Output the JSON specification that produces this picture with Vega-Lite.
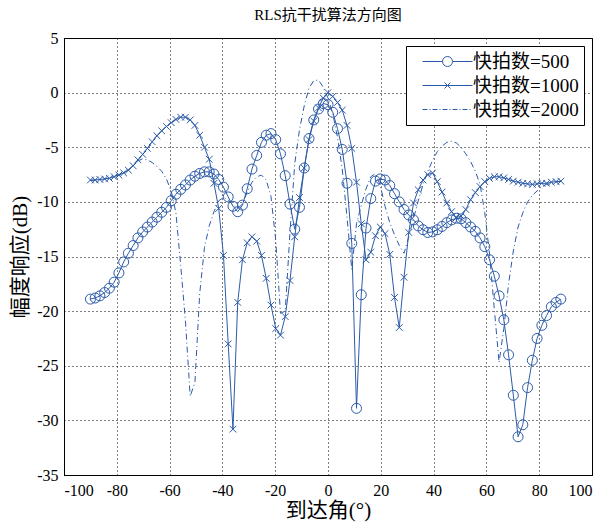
{
  "$schema": "https://vega.github.io/schema/vega-lite/v6.json",
  "width": 528,
  "height": 437,
  "autosize": "none",
  "padding": {"left": 64, "top": 38, "right": 19, "bottom": 47},
  "background": "white",
  "title": {
    "text": "RLS抗干扰算法方向图",
    "font": "Liberation Serif, Noto Sans CJK SC",
    "fontSize": 15,
    "fontWeight": "normal",
    "color": "black",
    "anchor": "middle",
    "offset": 7
  },
  "config": {
    "view": {"stroke": "black", "strokeWidth": 1},
    "axis": {
      "labelFont": "Liberation Serif",
      "labelFontSize": 16,
      "labelColor": "black",
      "titleFont": "Liberation Serif, Noto Sans CJK SC",
      "titleFontSize": 21,
      "titleFontWeight": "normal",
      "titleColor": "black",
      "domainColor": "black",
      "grid": true,
      "gridColor": "black",
      "gridOpacity": 1,
      "gridDash": [1, 3],
      "gridWidth": 1,
      "ticks": false
    }
  },
  "data": {
    "values": [
      {"a": -90, "500": -18.9, "1000": -8.0, "2000": -8.05},
      {"a": -88.2, "500": -18.8, "1000": -8.0, "2000": -8.0},
      {"a": -86.4, "500": -18.6, "1000": -7.95, "2000": -7.95},
      {"a": -84.6, "500": -18.3, "1000": -7.9, "2000": -7.9},
      {"a": -82.8, "500": -17.9, "1000": -7.85, "2000": -7.8},
      {"a": -81, "500": -17.35, "1000": -7.7, "2000": -7.65},
      {"a": -79.2, "500": -16.5, "1000": -7.55, "2000": -7.5},
      {"a": -77.4, "500": -15.5, "1000": -7.35, "2000": -7.3},
      {"a": -75.6, "500": -14.7, "1000": -7.1, "2000": -7.05},
      {"a": -73.8, "500": -14.0, "1000": -6.7, "2000": -6.7},
      {"a": -72, "500": -13.3, "1000": -6.15, "2000": -6.25},
      {"a": -70.2, "500": -12.75, "1000": -5.65, "2000": -6.05},
      {"a": -68.4, "500": -12.3, "1000": -5.1, "2000": -6.15},
      {"a": -66.6, "500": -11.85, "1000": -4.5, "2000": -6.4},
      {"a": -64.8, "500": -11.4, "1000": -3.95, "2000": -6.75},
      {"a": -63, "500": -10.95, "1000": -3.5, "2000": -7.2},
      {"a": -61.2, "500": -10.5, "1000": -3.1, "2000": -7.9},
      {"a": -59.4, "500": -9.9, "1000": -2.75, "2000": -9.0},
      {"a": -57.6, "500": -9.3, "1000": -2.45, "2000": -11.0},
      {"a": -55.8, "500": -8.85, "1000": -2.25, "2000": -15.8},
      {"a": -54, "500": -8.45, "1000": -2.25, "2000": -20.9},
      {"a": -52.2, "500": -8.0, "1000": -2.5, "2000": -27.8},
      {"a": -50.4, "500": -7.65, "1000": -3.0, "2000": -26.5},
      {"a": -48.6, "500": -7.4, "1000": -3.9, "2000": -18.4},
      {"a": -46.8, "500": -7.25, "1000": -5.0, "2000": -14.2},
      {"a": -45, "500": -7.25, "1000": -6.1, "2000": -12.2},
      {"a": -43.2, "500": -7.45, "1000": -8.3, "2000": -10.9},
      {"a": -41.4, "500": -7.95, "1000": -10.6, "2000": -9.9},
      {"a": -39.6, "500": -8.65, "1000": -14.9, "2000": -9.6},
      {"a": -37.8, "500": -9.55, "1000": -23.0, "2000": -9.8},
      {"a": -36, "500": -10.4, "1000": -30.8, "2000": -10.3},
      {"a": -34.2, "500": -10.9, "1000": -19.2, "2000": -10.6},
      {"a": -32.4, "500": -10.3, "1000": -15.3, "2000": -10.2},
      {"a": -30.6, "500": -8.8, "1000": -13.75, "2000": -9.1},
      {"a": -28.8, "500": -7.0, "1000": -13.2, "2000": -8.2},
      {"a": -27, "500": -5.75, "1000": -13.6, "2000": -7.7},
      {"a": -25.2, "500": -4.55, "1000": -14.9, "2000": -7.55},
      {"a": -23.4, "500": -3.9, "1000": -17.0, "2000": -8.0},
      {"a": -21.6, "500": -3.75, "1000": -19.45, "2000": -9.5},
      {"a": -19.8, "500": -4.3, "1000": -21.6, "2000": -13.5},
      {"a": -18, "500": -5.6, "1000": -22.2, "2000": -20.2},
      {"a": -16.2, "500": -7.6, "1000": -20.5, "2000": -20.0},
      {"a": -14.4, "500": -10.2, "1000": -17.2, "2000": -12.8},
      {"a": -12.6, "500": -12.5, "1000": -13.2, "2000": -6.5},
      {"a": -10.8, "500": -10.5, "1000": -9.6, "2000": -3.4},
      {"a": -9, "500": -6.9, "1000": -6.9, "2000": -1.2},
      {"a": -7.2, "500": -4.2, "1000": -4.3, "2000": 0.4},
      {"a": -5.4, "500": -2.5, "1000": -2.6, "2000": 1.1},
      {"a": -3.6, "500": -1.5, "1000": -1.4, "2000": 1.15},
      {"a": -1.8, "500": -1.0, "1000": -0.5, "2000": 0.5},
      {"a": 0, "500": -1.1, "1000": 0.0, "2000": -0.5},
      {"a": 1.8, "500": -1.8, "1000": -0.35, "2000": -1.9},
      {"a": 3.6, "500": -3.3, "1000": -0.9, "2000": -4.1},
      {"a": 5.4, "500": -5.2, "1000": -1.6, "2000": -7.0},
      {"a": 7.2, "500": -8.3, "1000": -3.0, "2000": -11.4},
      {"a": 9, "500": -13.8, "1000": -5.1, "2000": -16.2},
      {"a": 10.8, "500": -28.9, "1000": -8.2, "2000": -12.0},
      {"a": 12.6, "500": -18.5, "1000": -12.0, "2000": -10.3},
      {"a": 14.4, "500": -12.4, "1000": -15.3, "2000": -8.8},
      {"a": 16.2, "500": -9.7, "1000": -14.6, "2000": -7.7},
      {"a": 18, "500": -8.1, "1000": -13.1, "2000": -7.4},
      {"a": 19.8, "500": -7.9, "1000": -12.3, "2000": -8.5},
      {"a": 21.6, "500": -8.0, "1000": -12.9, "2000": -10.4},
      {"a": 23.4, "500": -8.5, "1000": -14.8, "2000": -11.9},
      {"a": 25.2, "500": -9.25, "1000": -18.75, "2000": -13.0},
      {"a": 27, "500": -10.0, "1000": -21.5, "2000": -14.0},
      {"a": 28.8, "500": -10.7, "1000": -16.9, "2000": -14.7},
      {"a": 30.6, "500": -11.2, "1000": -12.8, "2000": -13.2},
      {"a": 32.4, "500": -11.65, "1000": -10.1, "2000": -11.5},
      {"a": 34.2, "500": -12.2, "1000": -8.9, "2000": -9.9},
      {"a": 36, "500": -12.55, "1000": -8.0, "2000": -8.4},
      {"a": 37.8, "500": -12.8, "1000": -7.5, "2000": -7.2},
      {"a": 39.6, "500": -12.75, "1000": -7.35, "2000": -6.2},
      {"a": 41.4, "500": -12.55, "1000": -8.15, "2000": -5.4},
      {"a": 43.2, "500": -12.25, "1000": -9.1, "2000": -4.9},
      {"a": 45, "500": -11.9, "1000": -10.1, "2000": -4.55},
      {"a": 46.8, "500": -11.65, "1000": -10.9, "2000": -4.45},
      {"a": 48.6, "500": -11.5, "1000": -11.45, "2000": -4.6},
      {"a": 50.4, "500": -11.55, "1000": -11.3, "2000": -5.0},
      {"a": 52.2, "500": -11.9, "1000": -10.7, "2000": -5.6},
      {"a": 54, "500": -12.3, "1000": -9.8, "2000": -6.3},
      {"a": 55.8, "500": -12.7, "1000": -9.15, "2000": -7.2},
      {"a": 57.6, "500": -13.3, "1000": -8.6, "2000": -8.4},
      {"a": 59.4, "500": -14.1, "1000": -8.15, "2000": -11.0},
      {"a": 61.2, "500": -15.3, "1000": -7.85, "2000": -14.8},
      {"a": 63, "500": -16.8, "1000": -7.7, "2000": -19.8},
      {"a": 64.8, "500": -18.6, "1000": -7.7, "2000": -24.7},
      {"a": 66.6, "500": -20.8, "1000": -7.8, "2000": -21.6},
      {"a": 68.4, "500": -24.0, "1000": -7.95, "2000": -17.5},
      {"a": 70.2, "500": -27.7, "1000": -8.1, "2000": -14.5},
      {"a": 72, "500": -31.5, "1000": -8.2, "2000": -12.3},
      {"a": 73.8, "500": -30.4, "1000": -8.3, "2000": -11.0},
      {"a": 75.6, "500": -27.0, "1000": -8.35, "2000": -10.0},
      {"a": 77.4, "500": -24.5, "1000": -8.4, "2000": -9.4},
      {"a": 79.2, "500": -22.5, "1000": -8.35, "2000": -9.0},
      {"a": 81, "500": -21.3, "1000": -8.3, "2000": -8.6},
      {"a": 82.8, "500": -20.4, "1000": -8.3, "2000": -8.4},
      {"a": 84.6, "500": -19.6, "1000": -8.2, "2000": -8.3},
      {"a": 86.4, "500": -19.2, "1000": -8.15, "2000": -8.2},
      {"a": 88.2, "500": -18.9, "1000": -8.1, "2000": -8.1}
    ]
  },
  "transform": [{"fold": ["500", "1000", "2000"], "as": ["k", "db"]}],
  "encoding": {
    "x": {
      "field": "a",
      "type": "quantitative",
      "scale": {"domain": [-100, 100], "nice": false, "zero": false},
      "axis": {
        "values": [-100, -80, -60, -40, -20, 0, 20, 40, 60, 80, 100],
        "labelExpr": "'' + datum.value",
        "labelPadding": 7,
        "title": "到达角(°)",
        "titlePadding": 1
      }
    },
    "y": {
      "field": "db",
      "type": "quantitative",
      "scale": {"domain": [-35, 5], "nice": false, "zero": false},
      "axis": {
        "values": [5, 0, -5, -10, -15, -20, -25, -30, -35],
        "labelExpr": "'' + datum.value",
        "labelPadding": 6,
        "title": "幅度响应(dB)",
        "titlePadding": 6
      }
    }
  },
  "layer": [
    {
      "transform": [{"filter": "datum.k != '2000'"}],
      "mark": {"type": "line", "color": "#2c5ba9", "strokeWidth": 1},
      "encoding": {"detail": {"field": "k", "type": "nominal"}}
    },
    {
      "transform": [{"filter": "datum.k == '2000'"}],
      "mark": {"type": "line", "color": "#2c5ba9", "strokeWidth": 1, "strokeDash": [6, 3, 1, 3]}
    },
    {
      "transform": [{"filter": "datum.k == '500'"}],
      "mark": {"type": "point", "shape": "circle", "size": 100, "filled": false, "color": "#2c5ba9", "strokeWidth": 1, "opacity": 1}
    },
    {
      "transform": [{"filter": "datum.k == '1000'"}],
      "mark": {"type": "point", "shape": "M-1,-1L1,1M-1,1L1,-1", "size": 45, "filled": false, "color": "#2c5ba9", "strokeWidth": 1, "opacity": 1}
    },
    {
      "transform": [{"filter": "datum.a > 1000"}],
      "mark": {"type": "point", "filled": false, "color": "#2c5ba9", "strokeWidth": 1, "opacity": 1},
      "encoding": {
        "shape": {
          "field": "k",
          "type": "nominal",
          "scale": {
            "domain": ["500", "1000", "2000"],
            "range": [
              "M-2.5,0H-0.5M0.5,0H2.5M0.5,0L0.462,0.191L0.354,0.354L0.191,0.462L0,0.5L-0.191,0.462L-0.354,0.354L-0.462,0.191L-0.5,0L-0.462,-0.191L-0.354,-0.354L-0.191,-0.462L0,-0.5L0.191,-0.462L0.354,-0.354L0.462,-0.191Z",
              "M-2.5,0H2.5M-0.3,-0.3L0.3,0.3M-0.3,0.3L0.3,-0.3",
              "M-2.5,0H-2M-1.8,0H-1.7M-1.5,0H-1M-0.8,0H-0.7M-0.5,0H0M0.2,0H0.3M0.5,0H1M1.2,0H1.3M1.5,0H2M2.2,0H2.3"
            ]
          },
          "legend": {
            "title": null,
            "orient": "top-right",
            "offset": 8,
            "strokeColor": "black",
            "fillColor": "white",
            "padding": 5,
            "cornerRadius": 0,
            "symbolSize": 400,
            "symbolStrokeWidth": 1,
            "symbolStrokeColor": "#2c5ba9",
            "symbolFillColor": "transparent",
            "symbolOffset": 26,
            "labelOffset": 15,
            "labelFont": "Liberation Serif, Noto Sans CJK SC",
            "labelFontSize": 19,
            "labelColor": "black",
            "labelLimit": 300,
            "rowPadding": 3,
            "labelExpr": "'快拍数=' + datum.label"
          }
        }
      }
    }
  ]
}
